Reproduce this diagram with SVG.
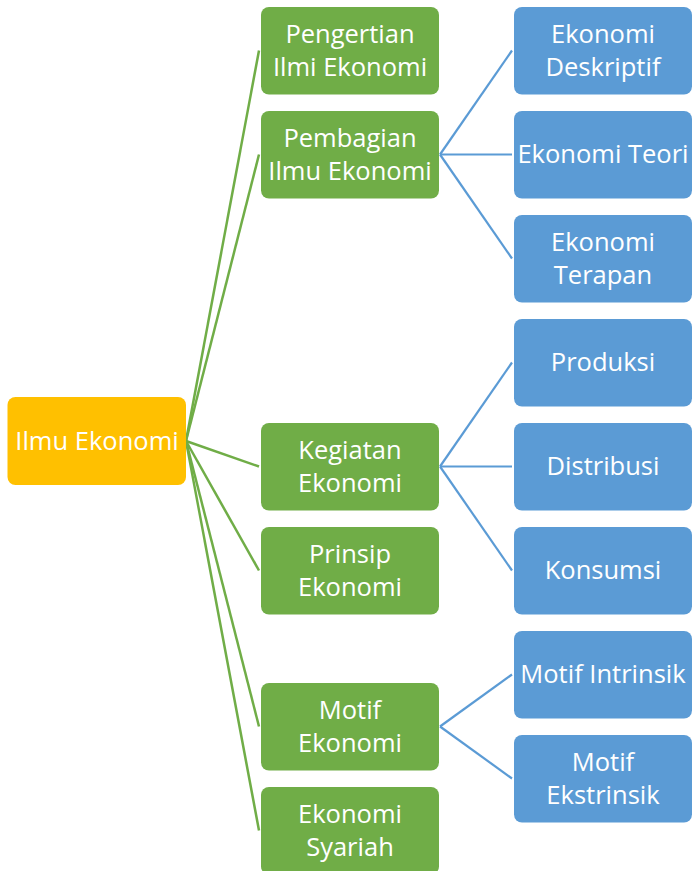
<svg xmlns="http://www.w3.org/2000/svg" width="693" height="871" viewBox="0 0 693 871">
  <style>
    .root { fill: #FFC000; }
    .lvl1 { fill: #70AD47; }
    .lvl2 { fill: #5B9BD5; }
    .label { font-family: "Open Sans", "Liberation Sans", sans-serif; font-size: 25.5px; fill: #FFFFFF; text-anchor: middle; }
    .c1 { stroke: #70AD47; stroke-width: 2.5; fill: none; }
    .c2 { stroke: #5B9BD5; stroke-width: 2.2; fill: none; }
  </style>

  <!-- connectors -->
  <g id="connectors">
    <line class="c1" x1="186" y1="441" x2="259" y2="50.5"/>
    <line class="c1" x1="186" y1="441" x2="259" y2="154.5"/>
    <line class="c1" x1="186" y1="441" x2="259" y2="466.5"/>
    <line class="c1" x1="186" y1="441" x2="259" y2="570.5"/>
    <line class="c1" x1="186" y1="441" x2="259" y2="726.5"/>
    <line class="c1" x1="186" y1="441" x2="259" y2="830.5"/>

    <line class="c2" x1="440" y1="154.5" x2="512" y2="50.5"/>
    <line class="c2" x1="440" y1="154.5" x2="512" y2="154.5"/>
    <line class="c2" x1="440" y1="154.5" x2="512" y2="258.5"/>

    <line class="c2" x1="440" y1="466.5" x2="512" y2="362.5"/>
    <line class="c2" x1="440" y1="466.5" x2="512" y2="466.5"/>
    <line class="c2" x1="440" y1="466.5" x2="512" y2="570.5"/>

    <line class="c2" x1="440" y1="726.5" x2="512" y2="674.5"/>
    <line class="c2" x1="440" y1="726.5" x2="512" y2="778.5"/>
  </g>

  <!-- root -->
  <g id="ilmu-ekonomi">
    <rect class="root" x="7.5" y="397" width="178.5" height="88" rx="8"/>
    <text class="label" x="97" y="450">Ilmu Ekonomi</text>
  </g>

  <!-- level 1 -->
  <g id="pengertian">
    <rect class="lvl1" x="261" y="7" width="178" height="87.5" rx="8"/>
    <text class="label" x="350" y="43">Pengertian</text>
    <text class="label" x="350" y="76">Ilmi Ekonomi</text>
  </g>
  <g id="pembagian">
    <rect class="lvl1" x="261" y="111" width="178" height="87.5" rx="8"/>
    <text class="label" x="350" y="147">Pembagian</text>
    <text class="label" x="350" y="180">Ilmu Ekonomi</text>
  </g>
  <g id="kegiatan">
    <rect class="lvl1" x="261" y="423" width="178" height="87.5" rx="8"/>
    <text class="label" x="350" y="459">Kegiatan</text>
    <text class="label" x="350" y="492">Ekonomi</text>
  </g>
  <g id="prinsip">
    <rect class="lvl1" x="261" y="527" width="178" height="87.5" rx="8"/>
    <text class="label" x="350" y="563">Prinsip</text>
    <text class="label" x="350" y="596">Ekonomi</text>
  </g>
  <g id="motif">
    <rect class="lvl1" x="261" y="683" width="178" height="87.5" rx="8"/>
    <text class="label" x="350" y="719">Motif</text>
    <text class="label" x="350" y="752">Ekonomi</text>
  </g>
  <g id="syariah">
    <rect class="lvl1" x="261" y="787" width="178" height="87.5" rx="8"/>
    <text class="label" x="350" y="823">Ekonomi</text>
    <text class="label" x="350" y="856">Syariah</text>
  </g>

  <!-- level 2 -->
  <g id="deskriptif">
    <rect class="lvl2" x="514" y="7" width="178" height="87.5" rx="8"/>
    <text class="label" x="603" y="43">Ekonomi</text>
    <text class="label" x="603" y="76">Deskriptif</text>
  </g>
  <g id="teori">
    <rect class="lvl2" x="514" y="111" width="178" height="87.5" rx="8"/>
    <text class="label" x="603" y="163">Ekonomi Teori</text>
  </g>
  <g id="terapan">
    <rect class="lvl2" x="514" y="215" width="178" height="87.5" rx="8"/>
    <text class="label" x="603" y="251">Ekonomi</text>
    <text class="label" x="603" y="284">Terapan</text>
  </g>
  <g id="produksi">
    <rect class="lvl2" x="514" y="319" width="178" height="87.5" rx="8"/>
    <text class="label" x="603" y="371">Produksi</text>
  </g>
  <g id="distribusi">
    <rect class="lvl2" x="514" y="423" width="178" height="87.5" rx="8"/>
    <text class="label" x="603" y="475">Distribusi</text>
  </g>
  <g id="konsumsi">
    <rect class="lvl2" x="514" y="527" width="178" height="87.5" rx="8"/>
    <text class="label" x="603" y="579">Konsumsi</text>
  </g>
  <g id="intrinsik">
    <rect class="lvl2" x="514" y="631" width="178" height="87.5" rx="8"/>
    <text class="label" x="603" y="683">Motif Intrinsik</text>
  </g>
  <g id="ekstrinsik">
    <rect class="lvl2" x="514" y="735" width="178" height="87.5" rx="8"/>
    <text class="label" x="603" y="771">Motif</text>
    <text class="label" x="603" y="804">Ekstrinsik</text>
  </g>
</svg>
